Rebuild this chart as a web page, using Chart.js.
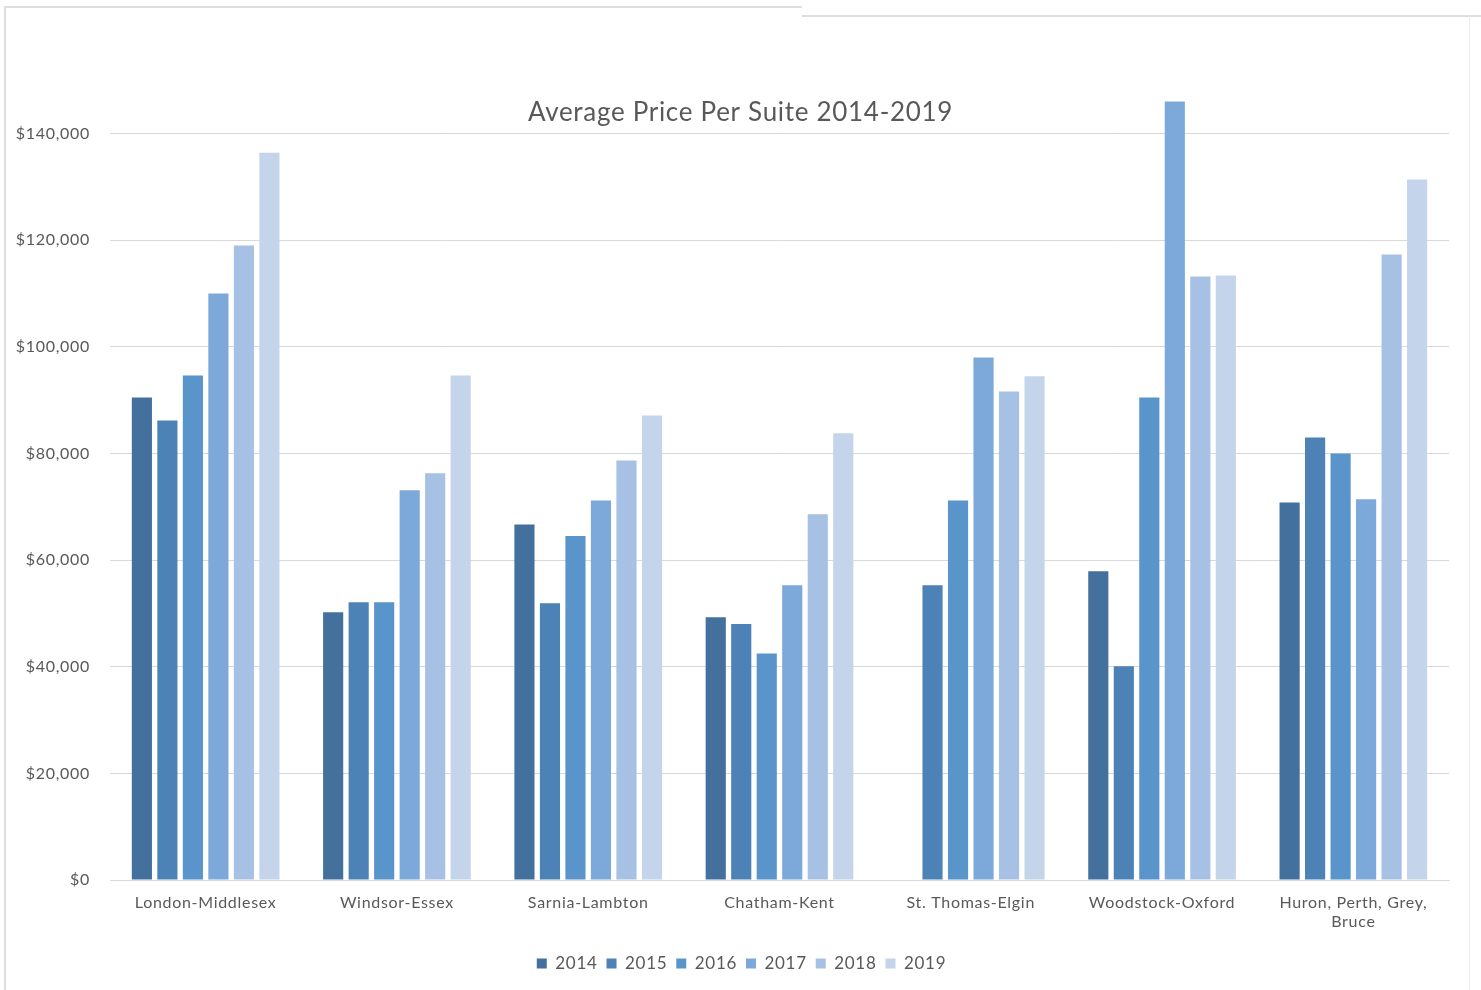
<!DOCTYPE html>
<html>
<head>
<meta charset="utf-8">
<script src="https://cdn.jsdelivr.net/npm/chart.js@4/dist/chart.umd.min.js"></script>
<style>
  html, body { margin: 0; padding: 0; background: #ffffff; }
  #wrap { position: relative; width: 1481px; height: 990px; overflow: hidden; }
  #chart { position: absolute; left: 0; top: 0; }
  .rule { position: absolute; background: #dedede; }
</style>
</head>
<body>
<div id="wrap">
  <canvas id="chart" width="1481" height="990"></canvas>
  <div class="rule" style="left:4px; top:6px; width:798px; height:2px;"></div>
  <div class="rule" style="left:4px; top:6px; width:2px; height:984px;"></div>
  <div class="rule" style="left:802px; top:15px; width:679px; height:2px;"></div>
  <div class="rule" style="left:1469px; top:15px; width:1px; height:975px; background:#ececec;"></div>
</div>
<script>
// Regions on the horizontal axis
const regions = [
  'London-Middlesex',
  'Windsor-Essex',
  'Sarnia-Lambton',
  'Chatham-Kent',
  'St. Thomas-Elgin',
  'Woodstock-Oxford',
  ['Huron, Perth, Grey,', 'Bruce']
];

// Average price per suite, one list per year (no 2014 figure for St. Thomas-Elgin)
const price2014 = [90500, 50200, 66700, 49300, null,  57900, 70800];
const price2015 = [86200, 52100, 51900, 48000, 55300, 40100, 83000];
const price2016 = [94600, 52100, 64500, 42500, 71200, 90500, 80000];
const price2017 = [110000, 73100, 71200, 55300, 98000, 146000, 71400];
const price2018 = [119000, 76300, 78700, 68600, 91600, 113200, 117300];
const price2019 = [136400, 94600, 87100, 83800, 94500, 113400, 131400];

const years = ['2014', '2015', '2016', '2017', '2018', '2019'];
const yearColors = ['#43709c', '#4c82b6', '#5994cb', '#7ca9d9', '#a6c1e4', '#c4d4eb'];

// Axis tick values shown on the price axis
const priceTicks = [0, 20000, 40000, 60000, 80000, 100000, 120000, 140000];

const chartTitle = 'Average Price Per Suite 2014-2019';

const FONT = 'Lato, "Open Sans", "DejaVu Sans", sans-serif';
const TEXT = '#595959';
const SPACING = '0.7px';

const series = [price2014, price2015, price2016, price2017, price2018, price2019];

// Slightly open letter spacing for all chart text
const textSpacing = {
  id: 'textSpacing',
  beforeLayout(chart) { chart.ctx.letterSpacing = SPACING; },
  beforeDraw(chart) { chart.ctx.letterSpacing = SPACING; }
};

// Centre the legend under the whole figure rather than under the plot box
const legendCentre = {
  id: 'legendCentre',
  afterLayout(chart, args, opts) {
    const lg = chart.legend;
    if (lg) { lg.left += opts.shift; lg.right += opts.shift; }
  }
};

// Title drawn over the upper part of the plot area
const overlayTitle = {
  id: 'overlayTitle',
  afterDraw(chart, args, opts) {
    const ctx = chart.ctx;
    ctx.save();
    ctx.letterSpacing = SPACING;
    ctx.font = '26px ' + FONT;
    ctx.fillStyle = TEXT;
    ctx.textAlign = 'center';
    ctx.textBaseline = 'middle';
    ctx.fillText(opts.text, chart.width / 2, 113);
    ctx.restore();
  }
};

new Chart(document.getElementById('chart'), {
  type: 'bar',
  data: {
    labels: regions,
    datasets: years.map((yr, i) => ({
      label: yr,
      data: series[i],
      backgroundColor: yearColors[i],
      borderWidth: 0,
      categoryPercentage: 0.8,
      barPercentage: 0.79
    }))
  },
  options: {
    responsive: false,
    animation: false,
    layout: { padding: { left: 14, right: 32, top: 16.5, bottom: 8 } },
    scales: {
      x: {
        grid: { display: false },
        border: { display: true, color: '#d9d9d9', width: 1 },
        ticks: {
          color: TEXT,
          font: { family: FONT, size: 16 },
          padding: 5,
          maxRotation: 0,
          autoSkip: false
        },
        afterFit(scale) { scale.height = 66; }
      },
      y: {
        min: 0,
        max: 159500,
        grid: { color: '#d9d9d9', lineWidth: 1, drawTicks: false },
        border: { display: false },
        ticks: {
          color: TEXT,
          font: { family: FONT, size: 16 },
          padding: 20,
          stepSize: 20000,
          callback: v => '$' + v.toLocaleString('en-US')
        },
        afterBuildTicks(axis) {
          axis.ticks = priceTicks.map(v => ({ value: v }));
        },
        afterFit(scale) { scale.width = 96; }
      }
    },
    plugins: {
      legend: {
        position: 'bottom',
        labels: {
          color: TEXT,
          font: { family: FONT, size: 17 },
          boxWidth: 10,
          boxHeight: 10,
          padding: 9
        }
      },
      tooltip: { enabled: false },
      legendCentre: { shift: 10 },
      overlayTitle: { text: chartTitle }
    }
  },
  plugins: [textSpacing, legendCentre, overlayTitle]
});
</script>
</body>
</html>
